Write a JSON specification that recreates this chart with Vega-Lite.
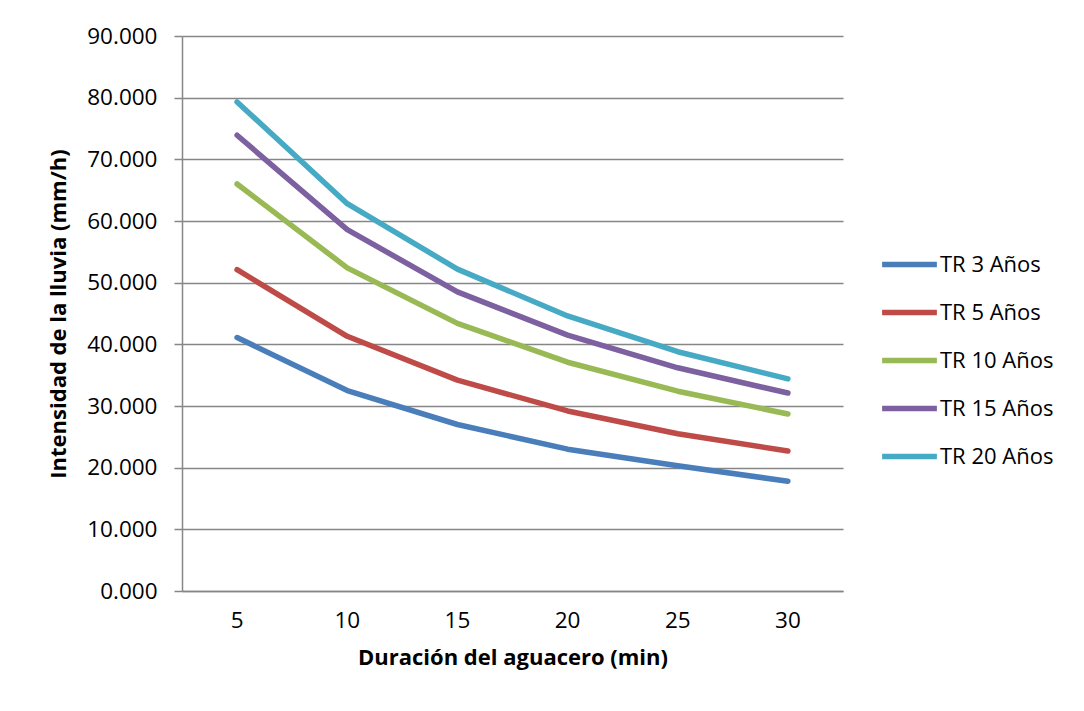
{
  "$schema": "https://vega.github.io/schema/vega-lite/v6.json",
  "width": 661,
  "height": 555,
  "autosize": {"type": "none"},
  "padding": {"left": 182, "top": 36, "right": 241, "bottom": 120},
  "background": "white",
  "config": {
    "font": "Open Sans",
    "view": {"stroke": null},
    "axis": {"labelFont": "Open Sans", "titleFont": "Open Sans", "labelColor": "#000000", "titleColor": "#000000"}
  },
  "data": {
    "values": [
      {"d": 5, "tr": "TR 3 Años", "i": 41.1}, {"d": 10, "tr": "TR 3 Años", "i": 32.5}, {"d": 15, "tr": "TR 3 Años", "i": 27.0}, {"d": 20, "tr": "TR 3 Años", "i": 23.0}, {"d": 25, "tr": "TR 3 Años", "i": 20.3}, {"d": 30, "tr": "TR 3 Años", "i": 17.8},
      {"d": 5, "tr": "TR 5 Años", "i": 52.1}, {"d": 10, "tr": "TR 5 Años", "i": 41.3}, {"d": 15, "tr": "TR 5 Años", "i": 34.2}, {"d": 20, "tr": "TR 5 Años", "i": 29.2}, {"d": 25, "tr": "TR 5 Años", "i": 25.5}, {"d": 30, "tr": "TR 5 Años", "i": 22.7},
      {"d": 5, "tr": "TR 10 Años", "i": 66.0}, {"d": 10, "tr": "TR 10 Años", "i": 52.4}, {"d": 15, "tr": "TR 10 Años", "i": 43.4}, {"d": 20, "tr": "TR 10 Años", "i": 37.1}, {"d": 25, "tr": "TR 10 Años", "i": 32.4}, {"d": 30, "tr": "TR 10 Años", "i": 28.7},
      {"d": 5, "tr": "TR 15 Años", "i": 73.9}, {"d": 10, "tr": "TR 15 Años", "i": 58.6}, {"d": 15, "tr": "TR 15 Años", "i": 48.5}, {"d": 20, "tr": "TR 15 Años", "i": 41.5}, {"d": 25, "tr": "TR 15 Años", "i": 36.2}, {"d": 30, "tr": "TR 15 Años", "i": 32.1},
      {"d": 5, "tr": "TR 20 Años", "i": 79.3}, {"d": 10, "tr": "TR 20 Años", "i": 62.8}, {"d": 15, "tr": "TR 20 Años", "i": 52.2}, {"d": 20, "tr": "TR 20 Años", "i": 44.6}, {"d": 25, "tr": "TR 20 Años", "i": 38.8}, {"d": 30, "tr": "TR 20 Años", "i": 34.4}
    ]
  },
  "mark": {"type": "line", "strokeWidth": 5.5, "strokeCap": "round", "strokeJoin": "round"},
  "encoding": {
    "x": {
      "field": "d", "type": "ordinal",
      "scale": {"type": "band", "paddingInner": 0, "paddingOuter": 0},
      "axis": {
        "title": "Duración del aguacero (min)", "labelAngle": 0, "labelFontSize": 22.5, "titleFontSize": 22, "titleFontWeight": "bold",
        "ticks": false, "labelPadding": 18, "titlePadding": 16, "grid": false,
        "domainColor": "#868686", "domainWidth": 1.5
      }
    },
    "y": {
      "field": "i", "type": "quantitative",
      "scale": {"domain": [0, 90], "nice": false, "zero": true},
      "axis": {
        "title": "Intensidad de la lluvia (mm/h)", "format": ".3f", "values": [0, 10, 20, 30, 40, 50, 60, 70, 80, 90],
        "labelFontSize": 22.5, "titleFontSize": 22, "titleFontWeight": "bold",
        "tickSize": 8, "tickColor": "#868686", "tickWidth": 1.5, "labelPadding": 17, "titlePadding": 16,
        "gridColor": "#868686", "gridWidth": 1.5, "domainColor": "#868686", "domainWidth": 1.5
      }
    },
    "color": {
      "field": "tr", "type": "nominal",
      "sort": ["TR 3 Años", "TR 5 Años", "TR 10 Años", "TR 15 Años", "TR 20 Años"],
      "scale": {"domain": ["TR 3 Años", "TR 5 Años", "TR 10 Años", "TR 15 Años", "TR 20 Años"], "range": ["#4a7ebb", "#be4b48", "#98b954", "#7d60a0", "#46aac5"]},
      "legend": {
        "title": null, "orient": "none", "legendX": 697, "legendY": 198,
        "symbolType": "stroke", "symbolStrokeWidth": 5.5, "symbolSize": 3000,
        "labelFontSize": 22, "labelFont": "Open Sans", "labelColor": "#000000", "labelOffset": 0,
        "rowPadding": 6
      }
    }
  }
}
